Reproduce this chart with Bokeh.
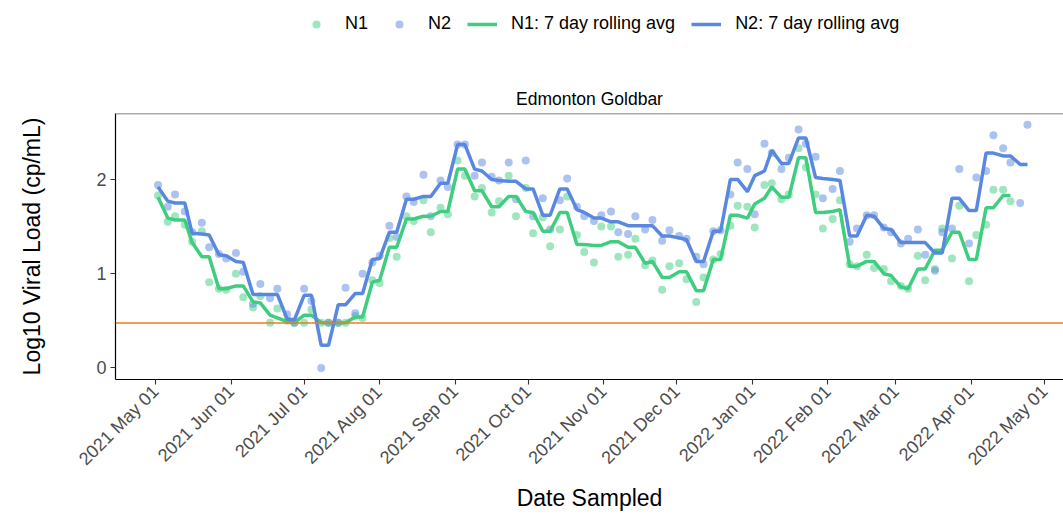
import math
import pandas as pd
from bokeh.plotting import figure
from bokeh.layouts import column
from bokeh.models import (ColumnDataSource, Legend, LegendItem, FixedTicker,
                          DatetimeTickFormatter, Span, Range1d)
from bokeh.embed import file_html
from bokeh.resources import INLINE

NaN = float("nan")

sample_dates = [
    "2021-05-02", "2021-05-06", "2021-05-09", "2021-05-13", "2021-05-16", "2021-05-20", "2021-05-23", "2021-05-27", "2021-05-30",
    "2021-06-03", "2021-06-06", "2021-06-10", "2021-06-13", "2021-06-17", "2021-06-20", "2021-06-24", "2021-06-27",
    "2021-07-01", "2021-07-04", "2021-07-08", "2021-07-11", "2021-07-15", "2021-07-18", "2021-07-22", "2021-07-25", "2021-07-29",
    "2021-08-01", "2021-08-05", "2021-08-08", "2021-08-12", "2021-08-15", "2021-08-19", "2021-08-22", "2021-08-26", "2021-08-29",
    "2021-09-02", "2021-09-05", "2021-09-09", "2021-09-12", "2021-09-16", "2021-09-19", "2021-09-23", "2021-09-26", "2021-09-30",
    "2021-10-03", "2021-10-07", "2021-10-10", "2021-10-14", "2021-10-17", "2021-10-21", "2021-10-24", "2021-10-28", "2021-10-31",
    "2021-11-04", "2021-11-07", "2021-11-11", "2021-11-14", "2021-11-18", "2021-11-21", "2021-11-25", "2021-11-28",
    "2021-12-02", "2021-12-05", "2021-12-09", "2021-12-12", "2021-12-16", "2021-12-19", "2021-12-23", "2021-12-26", "2021-12-30",
    "2022-01-02", "2022-01-06", "2022-01-09", "2022-01-13", "2022-01-16", "2022-01-20", "2022-01-23", "2022-01-27", "2022-01-30",
    "2022-02-03", "2022-02-06", "2022-02-10", "2022-02-13", "2022-02-17", "2022-02-20", "2022-02-24", "2022-02-27",
    "2022-03-03", "2022-03-06", "2022-03-10", "2022-03-13", "2022-03-17", "2022-03-20", "2022-03-24", "2022-03-27", "2022-03-31",
    "2022-04-03", "2022-04-07", "2022-04-10", "2022-04-14", "2022-04-17", "2022-04-21", "2022-04-24",
]

n1 = [
    1.83, 1.55, 1.61, 1.52, 1.34, 1.45, 0.91, 0.84, 0.83,
    1.00, 0.75, 0.64, 0.76, 0.48, 0.63, 0.50, 0.48,
    0.48, 0.62, 0.48, 0.48, 0.48, 0.48, 0.55, 0.53, 0.93,
    0.90, 1.38, 1.18, 1.61, 1.56, 1.78, 1.44, 1.70, 1.63,
    2.20, 2.04, 1.82, 1.91, 1.65, 1.77, 2.04, 1.61, 1.91,
    1.43, 1.60, 1.29, 1.47, 1.82, 1.41, 1.23, 1.12, 1.50,
    1.50, 1.18, 1.20, 1.37, 1.09, 1.14, 0.83, 1.08,
    1.11, 0.94, 0.70, 0.96, 1.15, 1.21, 1.51, 1.72, 1.71,
    1.49, 1.94, 1.96, 1.79, 1.84, 2.33, 2.13, 1.84, 1.48,
    1.58, 1.78, 1.10, 1.08, 1.20, 1.06, 1.05, 0.92,
    0.87, 0.84, 1.19, 0.93, 1.05, 1.48, 1.16, 1.72, 0.92,
    1.41, 1.52, 1.89, 1.89, 1.77, NaN, NaN,
]

n2 = [
    1.94, 1.71, 1.84, 1.66, 1.44, 1.54, 1.28, 1.21, 1.16,
    1.22, 1.02, 0.68, 0.89, 0.74, 0.84, 0.57, 0.48,
    0.84, 0.71, 0.00, 0.48, 0.48, 0.85, 0.58, 1.00, 1.12,
    1.19, 1.51, 1.39, 1.82, 1.76, 2.05, 1.61, 1.99, 1.92,
    2.37, 2.37, 2.04, 2.18, 2.03, 1.99, 2.18, 1.79, 2.20,
    1.61, 1.80, 1.47, 1.78, 2.01, 1.71, 1.61, 1.56, 1.62,
    1.66, 1.44, 1.42, 1.61, 1.47, 1.57, 1.35, 1.46,
    1.40, 1.37, 1.18, 1.10, 1.45, 1.46, 1.84, 2.18, 2.11,
    1.63, 2.38, 2.28, 2.11, 2.23, 2.53, 2.38, 2.24, 1.80,
    1.90, 2.09, 1.34, 1.48, 1.62, 1.62, 1.49, 1.44,
    1.32, 1.37, 1.47, 1.20, 1.03, 1.44, 1.48, 2.11, 1.32,
    2.02, 2.09, 2.47, 2.33, 2.18, 1.75, 2.58,
]

n1_avg = [
    1.81, 1.59, 1.57, 1.57, 1.33, 1.18, 1.18, 0.84, 0.84,
    0.87, 0.87, 0.70, 0.69, 0.56, 0.53, 0.49, 0.48,
    0.56, 0.56, 0.48, 0.48, 0.48, 0.48, 0.54, 0.54, 0.91,
    0.93, 1.28, 1.28, 1.58, 1.58, 1.61, 1.61, 1.66, 1.66,
    2.11, 2.11, 1.88, 1.88, 1.71, 1.71, 1.82, 1.82, 1.66,
    1.65, 1.45, 1.45, 1.65, 1.65, 1.31, 1.31, 1.30, 1.30,
    1.34, 1.34, 1.28, 1.28, 1.11, 1.13, 0.96, 0.96,
    1.02, 1.02, 0.82, 0.82, 1.15, 1.15, 1.62, 1.62, 1.59,
    1.74, 1.80, 1.92, 1.81, 1.81, 2.23, 2.23, 1.65, 1.65,
    1.66, 1.68, 1.08, 1.08, 1.13, 1.13, 1.00, 0.98,
    0.86, 0.84, 1.05, 1.05, 1.25, 1.25, 1.44, 1.44, 1.15,
    1.15, 1.70, 1.70, 1.83, 1.83, NaN, NaN,
]

n2_avg = [
    1.92, 1.77, 1.75, 1.75, 1.43, 1.42, 1.41, 1.20, 1.19,
    1.13, 1.12, 0.78, 0.78, 0.78, 0.78, 0.52, 0.51,
    0.77, 0.77, 0.24, 0.24, 0.67, 0.67, 0.79, 0.79, 1.15,
    1.16, 1.44, 1.44, 1.79, 1.79, 1.82, 1.82, 1.96, 1.96,
    2.37, 2.37, 2.11, 2.09, 2.00, 1.99, 1.98, 1.98, 1.90,
    1.90, 1.62, 1.62, 1.90, 1.90, 1.68, 1.65, 1.59, 1.59,
    1.55, 1.55, 1.51, 1.51, 1.51, 1.51, 1.40, 1.40,
    1.38, 1.36, 1.13, 1.13, 1.45, 1.45, 2.00, 2.00, 1.87,
    2.04, 2.09, 2.31, 2.17, 2.17, 2.44, 2.44, 2.02, 2.01,
    2.00, 1.99, 1.40, 1.40, 1.62, 1.61, 1.48, 1.47,
    1.33, 1.33, 1.33, 1.33, 1.22, 1.22, 1.80, 1.80, 1.67,
    1.67, 2.28, 2.28, 2.25, 2.25, 2.16, 2.16,
]

tick_dates = [
    "2021-05-01", "2021-06-01", "2021-07-01", "2021-08-01", "2021-09-01", "2021-10-01",
    "2021-11-01", "2021-12-01", "2022-01-01", "2022-02-01", "2022-03-01", "2022-04-01", "2022-05-01",
]
y_ticks = [0, 1, 2]
lod = 0.477
series_labels = ["N1", "N2", "N1: 7 day rolling avg", "N2: 7 day rolling avg"]

FONT = "Liberation Sans"
GREEN = "#3fcd7f"
BLUE = "#5a88e0"
LEG_H = 50

# ---------------- legend strip (separate small figure on top) ----------------
lf = figure(width=1063, height=LEG_H, x_range=Range1d(0, 1), y_range=Range1d(0, 1),
            output_backend="svg", toolbar_location=None, min_border=0)
lf.axis.visible = False
lf.xgrid.visible = False
lf.ygrid.visible = False
lf.outline_line_color = None
lf.background_fill_color = "white"
lf.border_fill_color = "white"
# legend-key renderers: their data lie outside the strip's ranges, so only the keys show
off = ColumnDataSource(dict(x=[-10, -9], y=[-10, -10]))
g1 = lf.scatter("x", "y", source=off, size=8, fill_color=GREEN, fill_alpha=0.5, line_color=None)
g2 = lf.scatter("x", "y", source=off, size=8, fill_color=BLUE, fill_alpha=0.5, line_color=None)
g3 = lf.line("x", "y", source=off, line_width=3.5, line_color=GREEN)
g4 = lf.line("x", "y", source=off, line_width=3.5, line_color=BLUE)
legend = Legend(items=[LegendItem(label=lab, renderers=[r]) for lab, r in zip(series_labels, [g1, g2, g3, g4])],
                orientation="horizontal", location=(186, 16),
                glyph_width=30, glyph_height=20, label_standoff=14, spacing=16,
                padding=0, margin=0, background_fill_alpha=0, border_line_color=None,
                label_text_font=FONT, label_text_font_size="18px", label_text_color="black")
lf.add_layout(legend)

# ---------------- main plot ----------------
src = ColumnDataSource(dict(date=pd.to_datetime(sample_dates), n1=n1, n2=n2,
                            n1_avg=n1_avg, n2_avg=n2_avg))

p = figure(width=1063, height=522 - LEG_H, x_axis_type="datetime",
           x_range=Range1d(pd.Timestamp("2021-04-14 13:00"), pd.Timestamp("2022-05-08 19:00")),
           y_range=Range1d(-0.123, 2.70),
           output_backend="svg", toolbar_location=None,
           min_border_left=115, min_border_right=0, min_border_top=113 - LEG_H, min_border_bottom=143)

p.background_fill_color = "white"
p.border_fill_color = "white"
p.outline_line_color = None
p.xgrid.visible = False
p.ygrid.visible = False

p.title.text = "Edmonton Goldbar"
p.title.align = "center"
p.title.text_font = FONT
p.title.text_font_size = "17.5px"
p.title.text_font_style = "normal"
p.title.text_color = "black"
p.title.standoff = 10

p.scatter("date", "n1", source=src, size=8, fill_color=GREEN, fill_alpha=0.5, line_color=None)
p.scatter("date", "n2", source=src, size=8, fill_color=BLUE, fill_alpha=0.5, line_color=None)
p.line("date", "n1_avg", source=src, line_width=3.5, line_color=GREEN)
p.line("date", "n2_avg", source=src, line_width=3.5, line_color=BLUE)

p.add_layout(Span(location=lod, dimension="width", line_color="#ee7d1d", line_width=1.4))
p.add_layout(Span(location=2.70, dimension="width", line_color="#555555", line_width=1.5))

p.xaxis.ticker = FixedTicker(ticks=[pd.Timestamp(d).value // 10**6 for d in tick_dates])
fmt = "%Y %b %d"
p.xaxis.formatter = DatetimeTickFormatter(milliseconds=fmt, seconds=fmt, minsec=fmt, minutes=fmt,
                                          hourmin=fmt, hours=fmt, days=fmt, months=fmt, years=fmt)
p.xaxis.major_label_orientation = math.pi / 4
p.yaxis.ticker = FixedTicker(ticks=y_ticks)

for ax in (p.xaxis[0], p.yaxis[0]):
    ax.axis_line_color = "black"
    ax.axis_line_width = 1.2
    ax.major_tick_line_color = "#333333"
    ax.major_tick_line_width = 1.1
    ax.major_tick_out = 5
    ax.major_tick_in = 0
    ax.minor_tick_line_color = None
    ax.major_label_text_font = FONT
    ax.major_label_text_font_size = "18px"
    ax.major_label_text_color = "#4d4d4d"
    ax.major_label_standoff = 4
    ax.axis_label_text_font = FONT
    ax.axis_label_text_font_size = "23px"
    ax.axis_label_text_font_style = "normal"
    ax.axis_label_text_color = "black"

p.xaxis.axis_label = "Date Sampled"
p.xaxis.axis_label_standoff = 6
p.yaxis.axis_label = "Log10 Viral Load (cp/mL)"
p.yaxis.axis_label_standoff = 48

open("out.html", "w").write(file_html(column(lf, p), INLINE))
